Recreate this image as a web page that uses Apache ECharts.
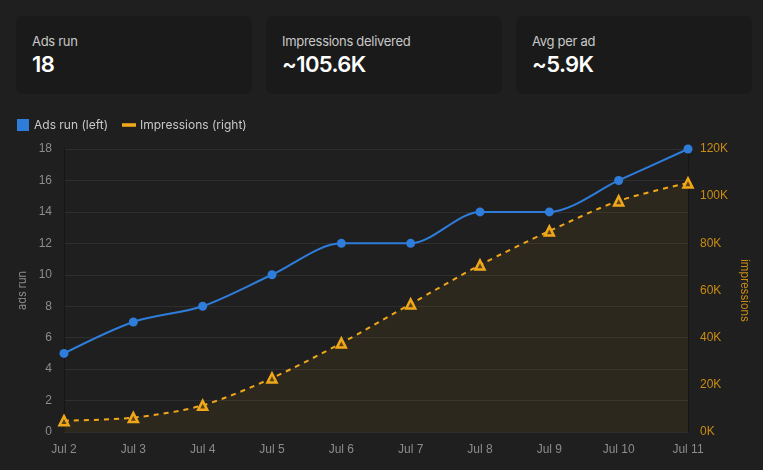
<!DOCTYPE html>
<html>
<head>
    <meta charset="utf-8">
    <title>Ads run vs impressions</title>
    <script src="https://cdn.jsdelivr.net/npm/echarts@6/dist/echarts.min.js"></script>
    <style>
        html, body { margin: 0; padding: 0; background: #1f1f1f; width: 763px; height: 470px; overflow: hidden; font-family: Inter, "Noto Sans", sans-serif; }
        .card { position: absolute; top: 16px; width: 236px; height: 78px; background: #1a1a1a; border-radius: 7px; }
        .card .t { position: absolute; left: 16px; top: 17px; font-size: 13px; color: #c8c8c8; letter-spacing: -0.3px; }
        .card .v { position: absolute; left: 16px; top: 35px; font-size: 22px; font-weight: 600; color: #fff; letter-spacing: -0.6px; }
        #main { position: absolute; left: 0; top: 104px; width: 763px; height: 366px; }
    </style>
</head>
<body>
<div class="card" style="left:16px"><div class="t">Ads run</div><div class="v">18</div></div>
<div class="card" style="left:266px"><div class="t">Impressions delivered</div><div class="v">~105.6K</div></div>
<div class="card" style="left:516px"><div class="t">Avg per ad</div><div class="v">~5.9K</div></div>
<div id="main"></div>
<script>
    // data
    var days = ['Jul 2', 'Jul 3', 'Jul 4', 'Jul 5', 'Jul 6', 'Jul 7', 'Jul 8', 'Jul 9', 'Jul 10', 'Jul 11'];
    var adsRun = [5, 7, 8, 10, 12, 12, 14, 14, 16, 18];
    var impressions = [4800, 6100, 11300, 22900, 37700, 54300, 70800, 85200, 98000, 105600];

    var blue = '#2f7ddb';
    var gold = '#f0a81a';

    var myChart = echarts.init(document.getElementById('main'));
    var option = {
        backgroundColor: 'transparent',
        textStyle: { fontFamily: 'Inter, "Noto Sans", sans-serif' },
        legend: {
            left: 12, top: 10,
            itemWidth: 12, itemHeight: 12, itemGap: 14,
            textStyle: { color: '#c8c8c8', fontSize: 12 },
            data: [
                { name: 'Ads run (left)', icon: 'path://M0,0 L10,0 L10,10 L0,10 Z' },
                { name: 'Impressions (right)', icon: 'path://M0,0 L12,0 L12,1.6 L0,1.6 Z' }
            ]
        },
        grid: { left: 64, right: 75, top: 45, bottom: 38 },
        xAxis: {
            type: 'category',
            data: days,
            boundaryGap: false,
            axisLine: { show: true, lineStyle: { color: '#2e2e2e' } },
            axisTick: { show: false },
            axisLabel: { color: '#8c8c8c', fontSize: 12, margin: 12, fontFamily: '"Liberation Sans", Arial, sans-serif' }
        },
        yAxis: [
            {
                type: 'value', min: 0, max: 18, interval: 2,
                name: 'ads run', nameLocation: 'middle', nameGap: 30,
                nameTextStyle: { color: '#8c8c8c', fontSize: 11, padding: [10, 0, 0, 0] },
                axisLine: { show: true, lineStyle: { color: '#161616' } },
                axisTick: { show: false },
                axisLabel: { color: '#8c8c8c', fontSize: 12, margin: 12, fontFamily: '"Liberation Sans", Arial, sans-serif' },
                splitLine: { lineStyle: { color: '#2e2e2e' } }
            },
            {
                type: 'value', min: 0, max: 120000, interval: 20000,
                name: 'impressions', nameLocation: 'middle', nameGap: 40, nameRotate: -90,
                nameTextStyle: { color: '#c98c12', fontSize: 11, padding: [10, 0, 0, 0] },
                axisLine: { show: true, lineStyle: { color: '#161616' } },
                axisTick: { show: false },
                axisLabel: {
                    color: '#c98c12', fontSize: 12, margin: 12, fontFamily: '"Liberation Sans", Arial, sans-serif',
                    formatter: function (v) { return (v / 1000) + 'K'; }
                },
                splitLine: { show: false }
            }
        ],
        series: [
            {
                name: 'Impressions (right)',
                type: 'line',
                yAxisIndex: 1,
                data: impressions,
                smooth: 0.3,
                symbol: 'triangle',
                symbolSize: 9,
                itemStyle: { color: '#5a4314', borderColor: gold, borderWidth: 2.5 },
                lineStyle: { color: gold, width: 2, type: [5, 5] },
                areaStyle: { color: 'rgba(240,168,26,0.1)' }
            },
            {
                name: 'Ads run (left)',
                type: 'line',
                yAxisIndex: 0,
                data: adsRun,
                smooth: 0.3,
                symbol: 'circle',
                symbolSize: 9,
                itemStyle: { color: blue },
                lineStyle: { color: blue, width: 2 }
            }
        ]
    };
    myChart.setOption(option);
</script>
</body>
</html>
